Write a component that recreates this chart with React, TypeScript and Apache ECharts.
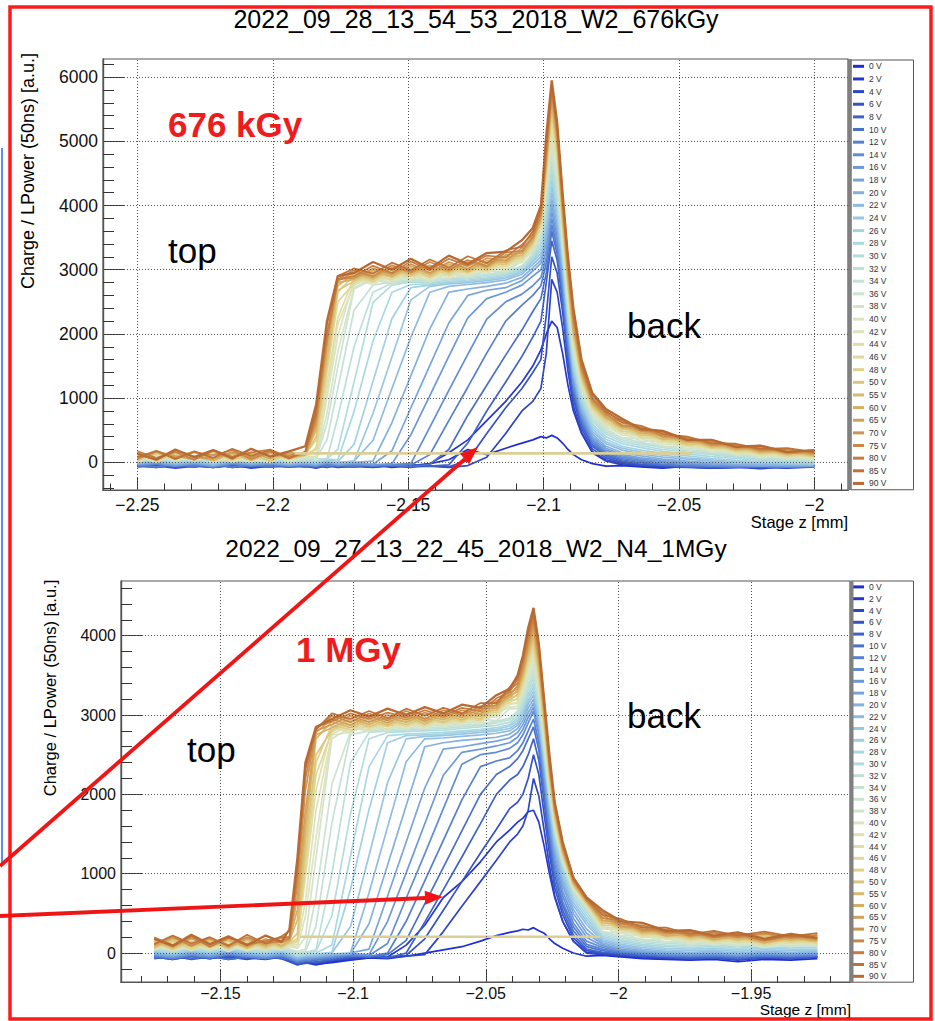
import { useEffect, useRef } from "react";
import * as echarts from "echarts";

// ---- legend entries (bias voltage) and line colours -------------------------
const VOLTAGES = [0, 2, 4, 6, 8, 10, 12, 14, 16, 18, 20, 22, 24, 26, 28, 30, 32, 34, 36, 38, 40, 42, 44, 46, 48, 50, 55, 60, 65, 70, 75, 80, 85, 90];
const SERIES_NAMES = VOLTAGES.map((v) => `${v} V`);
const LINE_COLORS = [
  "#1f2fd6", "#2537cf", "#2d45c9", "#3553c6", "#3f62c8", "#4a70cc", "#557fd1", "#618cd6", "#6c98da", "#78a4dd",
  "#84b0e0", "#8fbbe2", "#99c6e3", "#a2d0e4", "#a9d8e2", "#b3dcdc", "#bcdfd8", "#c5e1d4", "#cde3d0", "#d4e4ca",
  "#dae4c2", "#dee2b6", "#e0dea8", "#e0d898", "#dfd08a", "#dcc67c", "#d9ba6e", "#d6ae64", "#d2a25a", "#ce9550",
  "#c98848", "#c47c40", "#be7238", "#b86a32",
];

// ---- texts -------------------------------------------------------------------
const TOP_TITLE = "2022_09_28_13_54_53_2018_W2_676kGy";
const BOTTOM_TITLE = "2022_09_27_13_22_45_2018_W2_N4_1MGy";
const Y_TITLE = "Charge / LPower (50ns) [a.u.]";
const X_TITLE = "Stage z [mm]";

// ---- axis ticks ----------------------------------------------------------------
const TOP_X_TICKS = [-2.25, -2.2, -2.15, -2.1, -2.05, -2];
const TOP_Y_TICKS = [0, 1000, 2000, 3000, 4000, 5000, 6000];
const BOTTOM_X_TICKS = [-2.15, -2.1, -2.05, -2, -1.95];
const BOTTOM_Y_TICKS = [0, 1000, 2000, 3000, 4000];

// ---- 676 kGy scan: stage positions and charge per bias voltage ---------------
const TOP_Z = [
  -2.25, -2.243, -2.236, -2.229, -2.222, -2.215, -2.208, -2.201, -2.194,
  -2.188, -2.184, -2.18, -2.176,
  -2.17, -2.163, -2.156, -2.149, -2.142, -2.135, -2.128, -2.121, -2.114, -2.108,
  -2.104, -2.101, -2.099, -2.097, -2.095, -2.093, -2.091, -2.089, -2.086, -2.082, -2.077,
  -2.071, -2.064, -2.056, -2.047, -2.038, -2.029, -2.02, -2.01, -2,
];
const TOP_CURVES: number[][] = [
  [-60, -30, -70, -40, -80, -50, -60, -40, -70, -50, -80, -40, -60, -70, -40, -80, -50, -20, 40, 200, 120, 220, 300, 350, 400, 380, 420, 380, 300, 200, 120, 40, -20, -60, -50, -70, -90, -60, -80, -70, -100, -60, -50],
  [-50, -80, -40, -70, -30, -80, -50, -70, -50, -70, -50, -80, -40, -60, -70, -50, -80, -20, 150, 350, 650, 950, 1250, 1500, 1750, 2000, 2200, 2100, 1700, 1200, 800, 450, 150, 20, -40, -60, -80, -70, -90, -80, -70, -80, -60],
  [-70, -50, -90, -60, -80, -40, -90, -60, -70, -60, -90, -50, -80, -60, -80, -50, -70, -60, -80, -50, 80, 450, 800, 950, 1150, 1700, 2850, 2650, 2100, 1420, 880, 470, 170, 40, -20, -50, -70, -80, -90, -80, -80, -90, -70],
  [-60, -40, -80, -50, -70, -40, -80, -50, -60, -50, -80, -40, -70, -50, -70, -40, -60, -50, -70, 30, 450, 850, 1150, 1400, 1600, 2300, 3200, 2950, 2350, 1580, 980, 530, 210, 70, 0, -40, -60, -70, -80, -80, -70, -80, -60],
  [-50, -80, -40, -70, -30, -80, -50, -70, -40, -60, -40, -70, -50, -70, -40, -60, -30, -60, -40, 300, 800, 1250, 1650, 1950, 2200, 2800, 3450, 3150, 2500, 1680, 1050, 580, 250, 100, 20, -30, -50, -70, -80, -70, -80, -70, -60],
  [-60, -30, -70, -40, -80, -30, -60, -40, -70, -50, -70, -30, -60, -40, -60, -40, -70, -30, 200, 730, 1200, 1670, 2060, 2350, 2550, 2950, 3600, 3250, 2600, 1750, 1100, 620, 280, 120, 40, -10, -40, -60, -70, -70, -80, -70, -60],
  [-40, -70, -30, -60, -20, -70, -40, -60, -30, -50, -30, -60, -40, -60, -30, -50, -40, 120, 650, 1170, 1700, 2200, 2450, 2600, 2750, 3100, 3700, 3350, 2680, 1820, 1150, 660, 310, 140, 60, 10, -30, -50, -60, -70, -60, -70, -60],
  [-50, -20, -60, -30, -70, -20, -50, -30, -60, -40, -60, -20, -50, -30, -50, -30, -20, 550, 1120, 1680, 2230, 2500, 2620, 2750, 2880, 3200, 3800, 3450, 2750, 1880, 1200, 700, 340, 160, 80, 30, -10, -30, -50, -60, -60, -70, -60],
  [-40, -10, -50, -20, -60, -10, -40, -20, -50, -30, -50, -10, -40, -20, -40, -20, 430, 1040, 1650, 2250, 2550, 2650, 2760, 2900, 3000, 3300, 3900, 3530, 2820, 1950, 1250, 740, 370, 190, 100, 50, 10, -20, -40, -50, -60, -60, -60],
  [-30, 0, -40, -10, -50, 0, -30, -10, -40, -20, -40, 0, -30, -10, -30, 180, 850, 1510, 2170, 2600, 2680, 2720, 2830, 2980, 3100, 3400, 4000, 3620, 2900, 2020, 1300, 780, 400, 220, 120, 70, 30, 0, -20, -40, -50, -50, -60],
  [-20, 10, -30, 0, -40, 10, -20, 0, -30, -10, -30, 10, -20, 0, 20, 620, 1350, 2080, 2650, 2700, 2740, 2790, 2880, 3030, 3150, 3500, 4100, 3700, 2980, 2080, 1350, 820, 440, 250, 150, 100, 50, 20, -10, -30, -40, -40, -50],
  [-10, 20, -20, 10, -30, 20, -10, 10, -20, 0, -20, 20, -10, 20, 340, 1150, 1950, 2650, 2740, 2770, 2800, 2840, 2930, 3080, 3200, 3600, 4200, 3800, 3050, 2150, 1400, 860, 480, 290, 190, 130, 80, 50, 20, -10, -20, -30, -40],
  [0, 30, -10, 20, -20, 30, 0, 20, -10, 10, -10, 30, 0, 20, 760, 1640, 2530, 2740, 2780, 2800, 2830, 2870, 2960, 3120, 3250, 3700, 4300, 3880, 3120, 2200, 1450, 900, 520, 320, 220, 160, 110, 70, 40, 10, -10, -20, -30],
  [10, 40, 0, 30, -10, 40, 10, 30, 0, 20, 0, 40, 10, 280, 1260, 2240, 2720, 2760, 2800, 2820, 2850, 2890, 2980, 3150, 3300, 3800, 4400, 3970, 3200, 2250, 1500, 940, 560, 360, 250, 190, 140, 100, 60, 30, 10, -10, -20],
  [20, 50, 10, 40, 0, 50, 20, 40, 10, 30, 10, 50, 40, 790, 1890, 2650, 2770, 2780, 2820, 2840, 2870, 2910, 3000, 3180, 3350, 3900, 4500, 4050, 3250, 2300, 1550, 980, 600, 400, 290, 230, 170, 130, 90, 60, 30, 10, 0],
  [30, 60, 20, 50, 10, 60, 30, 50, 20, 40, 20, 60, 200, 1250, 2490, 2760, 2810, 2800, 2840, 2860, 2890, 2930, 3020, 3200, 3400, 4000, 4600, 4150, 3300, 2350, 1600, 1020, 640, 440, 320, 260, 200, 160, 120, 80, 50, 30, 20],
  [40, 70, 30, 60, 20, 70, 40, 60, 30, 30, 60, 50, 700, 1800, 2650, 2790, 2830, 2820, 2860, 2880, 2910, 2950, 3040, 3230, 3450, 4100, 4700, 4220, 3350, 2400, 1650, 1060, 670, 470, 350, 290, 230, 180, 140, 100, 70, 50, 30],
  [60, 30, 70, 40, 80, 30, 50, 70, 40, 50, 60, 350, 1150, 2370, 2760, 2810, 2850, 2830, 2870, 2900, 2930, 2970, 3060, 3250, 3500, 4200, 4800, 4300, 3400, 2450, 1700, 1100, 700, 500, 380, 310, 250, 200, 160, 120, 80, 60, 40],
  [0, 110, 20, 100, 10, 120, 30, 130, 0, 70, 60, 600, 1480, 2700, 2850, 2770, 2920, 2800, 2940, 2870, 2990, 2960, 3140, 3280, 3550, 4250, 4900, 4380, 3450, 2500, 1750, 1140, 740, 530, 380, 370, 250, 250, 150, 170, 70, 100, 30],
  [100, 0, 120, 20, 130, 0, 100, 20, 110, 80, 70, 760, 1720, 2720, 2870, 2800, 2940, 2820, 2960, 2890, 3020, 2990, 3170, 3300, 3600, 4300, 5000, 4450, 3500, 2550, 1800, 1170, 760, 550, 460, 330, 330, 210, 220, 120, 140, 50, 90],
  [10, 120, 30, 110, 20, 130, 40, 0, 110, 90, 80, 1000, 1960, 2850, 2770, 2930, 2840, 2960, 2870, 3010, 2940, 3090, 3110, 3320, 3620, 4350, 5100, 4550, 3550, 2600, 1830, 1200, 780, 570, 420, 410, 280, 280, 170, 190, 90, 120, 40],
  [110, 10, 130, 30, 140, 40, 10, 120, 30, 100, 90, 1100, 2150, 2760, 2900, 2830, 2970, 2850, 2990, 2910, 3050, 3020, 3200, 3340, 3650, 4400, 5200, 4620, 3600, 2640, 1870, 1230, 800, 590, 500, 370, 360, 240, 250, 140, 160, 70, 110],
  [20, 130, 40, 150, 50, 20, 130, 60, 40, 100, 230, 1250, 2250, 2880, 2800, 2960, 2860, 2990, 2900, 3030, 2970, 3130, 3150, 3360, 3680, 4450, 5300, 4700, 3650, 2680, 1900, 1260, 820, 610, 450, 440, 310, 310, 200, 210, 110, 140, 60],
  [120, 20, 140, 60, 150, 30, 120, 20, 130, 110, 200, 1400, 2500, 2790, 2930, 2850, 3000, 2870, 3020, 2940, 3080, 3050, 3230, 3380, 3700, 4500, 5400, 4800, 3700, 2720, 1950, 1290, 840, 630, 530, 390, 380, 260, 270, 160, 180, 90, 130],
  [30, 140, 50, 160, 20, 130, 70, 150, 50, 120, 350, 1500, 2650, 2910, 2820, 2990, 2890, 3020, 2930, 3060, 2990, 3170, 3180, 3400, 3720, 4550, 5450, 4850, 3750, 2760, 1980, 1310, 860, 650, 480, 470, 340, 330, 220, 230, 130, 160, 80],
  [130, 30, 150, 70, 160, 40, 130, 20, 140, 130, 400, 1550, 2680, 2820, 2960, 2880, 3030, 2890, 3060, 2960, 3110, 3080, 3260, 3420, 3750, 4600, 5500, 4900, 3800, 2800, 2000, 1330, 880, 670, 560, 420, 410, 280, 290, 180, 200, 110, 150],
  [40, 150, 90, 170, 50, 140, 30, 140, 60, 110, 500, 1650, 2750, 2940, 2850, 3020, 2920, 3050, 2960, 3090, 3020, 3200, 3220, 3440, 3780, 4650, 5600, 4950, 3850, 2850, 2050, 1360, 900, 690, 520, 500, 360, 360, 240, 250, 150, 180, 100],
  [140, 40, 170, 90, 30, 150, 70, 160, 80, 120, 550, 1800, 2800, 2850, 2990, 2900, 3060, 2920, 3090, 2980, 3140, 3110, 3300, 3460, 3800, 4700, 5650, 5000, 3900, 2900, 2100, 1400, 920, 700, 590, 450, 430, 310, 310, 200, 220, 130, 160],
  [50, 170, 100, 40, 180, 80, 160, 60, 150, 130, 600, 1850, 2820, 2960, 2880, 3040, 2950, 3070, 2980, 3120, 3040, 3230, 3260, 3480, 3820, 4750, 5700, 5050, 3950, 2950, 2150, 1420, 940, 720, 550, 530, 390, 380, 260, 270, 170, 190, 120],
  [150, 50, 190, 90, 60, 160, 80, 170, 70, 140, 650, 1900, 2850, 2870, 3020, 2930, 3090, 2950, 3120, 3010, 3180, 3140, 3340, 3500, 3850, 4800, 5750, 5100, 4000, 3000, 2200, 1450, 960, 740, 620, 480, 460, 330, 330, 220, 240, 140, 170],
  [60, 170, 70, 160, 110, 190, 50, 160, 110, 150, 700, 1950, 2850, 2990, 2900, 3070, 2960, 3120, 3000, 3150, 3060, 3270, 3290, 3520, 3880, 4850, 5780, 5150, 4050, 3050, 2250, 1480, 980, 760, 570, 550, 410, 390, 280, 280, 190, 210, 140],
  [170, 70, 160, 40, 190, 90, 150, 200, 80, 160, 750, 2000, 2850, 2900, 3060, 2950, 3130, 2990, 3170, 3060, 3220, 3190, 3390, 3550, 3900, 4900, 5820, 5200, 4100, 3100, 2300, 1500, 1000, 780, 650, 500, 480, 350, 350, 240, 260, 160, 190],
  [80, 180, 50, 170, 70, 210, 100, 190, 60, 170, 800, 2150, 2900, 3020, 2940, 3110, 2990, 3160, 3030, 3210, 3100, 3300, 3360, 3600, 3950, 5000, 5880, 5250, 4150, 3150, 2350, 1550, 1050, 800, 620, 570, 440, 400, 300, 290, 210, 220, 160],
  [130, 40, 200, 80, 190, 60, 210, 90, 170, 250, 900, 2200, 2900, 2950, 3120, 3000, 3170, 3020, 3220, 3090, 3260, 3280, 3460, 3650, 4000, 5100, 5950, 5300, 4200, 3200, 2400, 1600, 1080, 830, 680, 520, 490, 350, 350, 240, 260, 160, 190],
];
// flat segment drawn across the lower part of the 676 kGy panel
const TOP_FLAT_Z = [-2.192, -2.045];
const TOP_FLAT_VALUE = [140, 140];

// ---- 1 MGy scan ------------------------------------------------------------------
const BOTTOM_Z = [
  -2.175, -2.168, -2.161, -2.154, -2.147, -2.14, -2.133, -2.127,
  -2.124, -2.121, -2.118, -2.114,
  -2.108, -2.101, -2.094, -2.087, -2.08, -2.073, -2.066, -2.059, -2.052, -2.046, -2.041,
  -2.038, -2.036, -2.034, -2.032, -2.03, -2.028, -2.026, -2.024, -2.021, -2.017, -2.012,
  -2.006, -1.999, -1.991, -1.982, -1.973, -1.964, -1.955, -1.945, -1.935, -1.925,
];
const BOTTOM_CURVES: number[][] = [
  [-50, -80, -40, -70, -30, -60, -80, -50, -90, -130, -110, -140, -120, -90, -60, -70, -40, 0, 40, 80, 150, 220, 260, 280, 300, 290, 320, 280, 250, 180, 120, 60, 0, -40, -30, -50, -70, -80, -90, -80, -110, -80, -90, -70],
  [-60, -30, -70, -40, -80, -50, -30, -60, -100, -140, -120, -150, -110, -80, -60, -50, 100, 350, 700, 900, 1150, 1400, 1550, 1650, 1700, 1780, 1800, 1650, 1350, 1000, 700, 400, 150, 0, -20, -40, -60, -70, -80, -60, -90, -60, -70, -50],
  [-40, -70, -30, -60, -50, -80, -40, -70, -110, -150, -120, -130, -100, -70, -50, -60, -40, -20, 270, 590, 900, 1170, 1400, 1500, 1600, 1800, 2200, 1980, 1550, 1100, 720, 400, 150, 10, -10, -30, -50, -60, -70, -60, -80, -60, -70, -50],
  [-70, -40, -80, -50, -60, -30, -70, -50, -100, -140, -130, -110, -90, -60, -40, -50, -30, 180, 540, 900, 1260, 1560, 1820, 1900, 2000, 2200, 2500, 2250, 1750, 1250, 820, 480, 190, 30, 0, -20, -40, -50, -70, -60, -80, -50, -60, -50],
  [-50, -80, -40, -70, -30, -60, -50, -70, -90, -130, -100, -120, -80, -50, -30, -60, 0, 390, 800, 1210, 1630, 2000, 2180, 2250, 2350, 2500, 2700, 2430, 1900, 1350, 900, 540, 230, 50, 10, -10, -30, -50, -60, -50, -70, -50, -60, -40],
  [-60, -30, -70, -40, -80, -50, -30, -60, -80, -120, -110, -90, -70, -40, -50, -20, 160, 620, 1080, 1540, 2000, 2250, 2350, 2450, 2550, 2700, 2850, 2560, 2000, 1450, 980, 600, 280, 80, 30, 0, -20, -40, -50, -40, -60, -40, -50, -40],
  [-40, -70, -30, -60, -20, -50, -70, -40, -70, -110, -90, -80, -60, -30, -40, 0, 400, 910, 1420, 1930, 2350, 2420, 2460, 2550, 2650, 2800, 2950, 2650, 2100, 1530, 1050, 650, 330, 110, 50, 10, -10, -30, -40, -30, -50, -30, -40, -30],
  [-30, -60, -20, -50, -10, -40, -60, -30, -60, -100, -80, -70, -50, -20, -30, 120, 690, 1250, 1820, 2380, 2500, 2530, 2580, 2650, 2750, 2900, 3050, 2750, 2180, 1600, 1120, 720, 380, 150, 70, 20, 0, -20, -30, -20, -40, -20, -30, -20],
  [-20, -50, -10, -40, 0, -30, -50, -20, -50, -90, -70, -60, -40, -10, -20, 400, 1010, 1630, 2240, 2530, 2570, 2610, 2650, 2720, 2820, 2970, 3100, 2790, 2220, 1650, 1180, 780, 440, 200, 90, 30, 10, -10, -20, -10, -30, -10, -20, -10],
  [-10, -40, 0, -30, 10, -20, -40, -10, -40, -80, -60, -50, -30, 0, 50, 720, 1400, 2080, 2570, 2600, 2640, 2670, 2710, 2780, 2880, 3030, 3150, 2830, 2280, 1720, 1250, 850, 500, 250, 110, 50, 20, 0, -10, 0, -20, 0, -10, 0],
  [0, -30, 10, -20, 20, -10, -30, 0, -30, -70, -50, -40, -20, -10, 370, 1110, 1860, 2600, 2650, 2680, 2700, 2720, 2760, 2830, 2930, 3090, 3200, 2880, 2340, 1780, 1300, 900, 550, 300, 130, 70, 30, 10, 0, 10, -10, 10, 0, 10],
  [10, -20, 20, -10, 30, 0, -20, 10, -20, -60, -40, -30, -10, 0, 760, 1590, 2410, 2700, 2710, 2730, 2750, 2770, 2800, 2870, 2980, 3140, 3250, 2930, 2400, 1850, 1350, 950, 600, 360, 150, 90, 50, 20, 10, 20, 0, 20, 10, 20],
  [20, -10, 30, 0, 40, 10, -10, 20, -10, -50, -30, -20, 0, 330, 1230, 2150, 2700, 2730, 2740, 2760, 2780, 2800, 2830, 2900, 3020, 3180, 3300, 2970, 2440, 1880, 1400, 1000, 640, 400, 170, 110, 70, 40, 30, 40, 20, 40, 30, 30],
  [30, 0, 40, 10, 50, 20, 0, 30, 0, -40, -20, -10, 10, 800, 1810, 2650, 2740, 2750, 2760, 2780, 2800, 2820, 2860, 2930, 3060, 3230, 3350, 3020, 2480, 1910, 1450, 1050, 680, 440, 190, 130, 90, 60, 50, 60, 40, 60, 50, 50],
  [40, 10, 50, 20, 60, 30, 10, 40, 10, -30, -10, 0, 100, 1220, 2350, 2740, 2760, 2770, 2780, 2800, 2820, 2840, 2880, 2960, 3090, 3270, 3400, 3060, 2520, 1940, 1500, 1090, 720, 480, 210, 150, 110, 80, 70, 80, 60, 80, 70, 70],
  [50, 20, 60, 30, 70, 40, 20, 50, 20, -20, 0, 20, 470, 1750, 2700, 2780, 2790, 2800, 2810, 2830, 2850, 2870, 2910, 2990, 3130, 3320, 3450, 3110, 2550, 1970, 1520, 1100, 760, 520, 230, 170, 130, 100, 90, 100, 80, 100, 90, 90],
  [60, 30, 70, 40, 80, 50, 30, 60, 30, -10, 10, 40, 1000, 2400, 2780, 2800, 2810, 2820, 2830, 2850, 2870, 2900, 2940, 3020, 3160, 3360, 3500, 3150, 2590, 2000, 1540, 1120, 770, 550, 250, 190, 150, 120, 110, 120, 100, 120, 110, 100],
  [70, 40, 80, 50, 90, 60, 40, 70, 40, 0, 20, 340, 1640, 2750, 2800, 2820, 2830, 2840, 2850, 2870, 2890, 2920, 2960, 3050, 3200, 3400, 3550, 3200, 2630, 2020, 1560, 1130, 780, 560, 270, 210, 170, 140, 130, 140, 120, 140, 120, 110],
  [50, 110, 60, 90, 70, 100, 30, 110, 50, 20, 50, 710, 2130, 2790, 2870, 2810, 2890, 2830, 2920, 2860, 2950, 2930, 3080, 3080, 3230, 3450, 3600, 3240, 2660, 2050, 1580, 1150, 790, 570, 260, 260, 160, 190, 100, 150, 90, 140, 80, 120],
  [100, 30, 80, 50, 90, 30, 80, 40, 80, 60, 200, 1200, 2700, 2850, 2790, 2880, 2820, 2900, 2850, 2930, 2890, 3020, 3100, 3110, 3270, 3490, 3650, 3290, 2700, 2080, 1610, 1170, 800, 580, 340, 220, 230, 140, 170, 100, 140, 70, 120, 90],
  [40, 130, 30, 120, 20, 120, 40, 110, 90, 80, 460, 1450, 2750, 2780, 2890, 2810, 2910, 2830, 2940, 2880, 2990, 2970, 3150, 3140, 3300, 3540, 3700, 3330, 2740, 2110, 1630, 1180, 810, 590, 300, 300, 190, 210, 130, 170, 110, 160, 100, 140],
  [120, 30, 130, 40, 130, 30, 120, 50, 100, 110, 650, 1800, 2760, 2870, 2810, 2900, 2840, 2930, 2870, 2950, 2910, 3050, 3130, 3160, 3340, 3580, 3750, 3380, 2780, 2140, 1650, 1200, 830, 600, 370, 250, 260, 170, 190, 120, 160, 90, 140, 110],
  [50, 140, 40, 130, 50, 140, 40, 130, 110, 140, 950, 2050, 2850, 2780, 2900, 2820, 2940, 2850, 2960, 2900, 3010, 3000, 3190, 3190, 3370, 3620, 3800, 3420, 2810, 2170, 1670, 1220, 840, 610, 320, 320, 210, 230, 150, 190, 130, 180, 120, 160],
  [130, 40, 140, 60, 150, 50, 130, 60, 120, 150, 1050, 2250, 2790, 2900, 2830, 2920, 2860, 2950, 2890, 2970, 2930, 3080, 3160, 3210, 3400, 3660, 3850, 3470, 2850, 2190, 1690, 1230, 850, 620, 400, 280, 270, 190, 210, 140, 180, 100, 160, 120],
  [60, 150, 50, 140, 70, 150, 60, 140, 130, 180, 1200, 2400, 2880, 2810, 2930, 2850, 2960, 2870, 2980, 2920, 3030, 3030, 3220, 3240, 3430, 3710, 3900, 3510, 2890, 2220, 1720, 1250, 860, 620, 350, 350, 230, 250, 170, 210, 150, 200, 140, 180],
  [140, 50, 150, 70, 160, 60, 150, 70, 140, 250, 1350, 2500, 2810, 2930, 2850, 2940, 2880, 2970, 2910, 3000, 2950, 3110, 3190, 3260, 3460, 3750, 3950, 3560, 2920, 2250, 1740, 1260, 870, 630, 420, 300, 290, 210, 230, 160, 200, 120, 180, 140],
  [70, 170, 80, 160, 60, 170, 80, 160, 150, 420, 1500, 2700, 2920, 2840, 2960, 2870, 2990, 2890, 3010, 2940, 3050, 3060, 3250, 3290, 3500, 3790, 4000, 3600, 2960, 2280, 1760, 1280, 880, 640, 380, 370, 250, 270, 190, 230, 170, 220, 160, 200],
  [160, 70, 180, 90, 170, 70, 180, 90, 160, 550, 1650, 2750, 2840, 2960, 2880, 2970, 2910, 3000, 2940, 3030, 2980, 3140, 3220, 3310, 3530, 3830, 4050, 3650, 3000, 2310, 1780, 1300, 890, 650, 450, 320, 310, 220, 240, 170, 210, 130, 190, 150],
  [90, 190, 100, 180, 80, 180, 100, 190, 170, 700, 1800, 2780, 2950, 2870, 2990, 2900, 3020, 2920, 3030, 2970, 3080, 3090, 3280, 3330, 3560, 3870, 4100, 3690, 3030, 2340, 1800, 1310, 900, 660, 410, 390, 270, 290, 210, 250, 190, 240, 180, 220],
  [180, 80, 190, 100, 200, 90, 170, 130, 180, 850, 2050, 2800, 2880, 2990, 2910, 3000, 2940, 3030, 2970, 3060, 3010, 3180, 3250, 3370, 3600, 3900, 4150, 3740, 3070, 2370, 1830, 1330, 910, 660, 480, 340, 330, 240, 260, 190, 230, 150, 210, 170],
  [110, 210, 90, 190, 100, 200, 120, 150, 190, 950, 2200, 2820, 2990, 2910, 3020, 2930, 3050, 2950, 3060, 3000, 3110, 3120, 3320, 3400, 3640, 3950, 4200, 3780, 3110, 2390, 1850, 1340, 920, 670, 440, 410, 290, 300, 220, 260, 200, 250, 190, 230],
  [200, 100, 210, 80, 190, 110, 150, 200, 200, 1050, 2300, 2850, 2920, 3020, 2950, 3030, 2970, 3060, 2990, 3090, 3050, 3210, 3290, 3450, 3700, 4000, 4250, 3830, 3150, 2420, 1870, 1360, 940, 680, 510, 370, 350, 260, 270, 200, 240, 160, 220, 180],
  [110, 220, 120, 200, 90, 230, 120, 210, 280, 1100, 2350, 2820, 3020, 2950, 3050, 2960, 3080, 2990, 3090, 3020, 3150, 3150, 3350, 3470, 3720, 4050, 4300, 3870, 3180, 2450, 1890, 1380, 950, 690, 480, 430, 320, 320, 240, 280, 220, 270, 210, 250],
  [180, 90, 230, 110, 210, 100, 220, 140, 300, 1200, 2400, 2850, 2950, 3060, 2980, 3080, 3000, 3100, 3020, 3130, 3090, 3250, 3330, 3500, 3750, 4100, 4350, 3900, 3200, 2500, 1900, 1400, 950, 700, 540, 400, 380, 280, 290, 220, 260, 180, 240, 190],
];
const BOTTOM_FLAT_Z = [-2.12, -2.007];
const BOTTOM_FLAT_VALUE = [205, 205];

// ---- layout --------------------------------------------------------------------
const FONT = "'Liberation Sans', Arial, Helvetica, sans-serif";

type Panel = {
  left: number; top: number; width: number; height: number;
  xMin: number; xMax: number; yMin: number; yMax: number;
  xTicks: number[]; yTicks: number[];
  xMinorFrom: number; xMinorTo: number; yMinorFrom: number; yMinorTo: number;
  xMajorLen: number; xMinorLen: number; yMajorLen: number; yMinorLen: number;
  labelSize: number; labelMargin: number;
  z: number[]; curves: number[][]; flatZ: number[]; flatV: number[];
  legendTop: number; legendRow: number;
};

const PANELS: Panel[] = [
  {
    left: 103, top: 59, width: 745, height: 431,
    xMin: -2.2627, xMax: -1.9876, yMin: -431, yMax: 6282,
    xTicks: TOP_X_TICKS, yTicks: TOP_Y_TICKS,
    xMinorFrom: -2.26, xMinorTo: -1.99, yMinorFrom: -400, yMinorTo: 6200,
    xMajorLen: 13, xMinorLen: 6.5, yMajorLen: 22, yMinorLen: 11,
    labelSize: 17.5, labelMargin: 6,
    z: TOP_Z, curves: TOP_CURVES, flatZ: TOP_FLAT_Z, flatV: TOP_FLAT_VALUE,
    legendTop: 60, legendRow: 12.64,
  },
  {
    left: 121, top: 581, width: 729, height: 401,
    xMin: -2.1875, xMax: -1.9127, yMin: -365, yMax: 4689,
    xTicks: BOTTOM_X_TICKS, yTicks: BOTTOM_Y_TICKS,
    xMinorFrom: -2.18, xMinorTo: -1.92, yMinorFrom: -200, yMinorTo: 4600,
    xMajorLen: 12, xMinorLen: 6, yMajorLen: 22, yMinorLen: 11,
    labelSize: 16, labelMargin: 3,
    z: BOTTOM_Z, curves: BOTTOM_CURVES, flatZ: BOTTOM_FLAT_Z, flatV: BOTTOM_FLAT_VALUE,
    legendTop: 581, legendRow: 11.8,
  },
];

// minor tick positions between the labelled ticks
function minorTicks(from: number, to: number, step: number, skip: number[]): number[] {
  const out: number[] = [];
  const n = Math.round((to - from) / step);
  for (let k = 0; k <= n; k++) {
    const v = Math.round((from + k * step) * 10000) / 10000;
    if (!skip.some((s) => Math.abs(s - v) < 1e-6)) out.push(v);
  }
  return out;
}

const minusSign = (v: number) => String(v).replace("-", "\u2212");
const plain = (v: number) => String(v);

function buildOption() {
  const grid: any[] = [];
  const xAxis: any[] = [];
  const yAxis: any[] = [];
  const series: any[] = [];
  const legend: any[] = [];

  PANELS.forEach((p, gi) => {
    grid.push({
      left: p.left, top: p.top, width: p.width, height: p.height,
      show: true, borderColor: "#555", borderWidth: 1.2, backgroundColor: "transparent",
      outerBoundsMode: "none",
    });
    const xMinor = minorTicks(p.xMinorFrom, p.xMinorTo, 0.01, p.xTicks);
    const yMinor = minorTicks(p.yMinorFrom, p.yMinorTo, 200, p.yTicks);
    const line = { show: true, onZero: false, lineStyle: { color: "#555", width: 1.2 } };
    const tickStyle = { color: "#333", width: 1 };
    const base = { type: "value", gridIndex: gi, splitLine: { show: false }, axisLine: line };

    xAxis.push({
      ...base, min: p.xMin, max: p.xMax, position: "bottom",
      axisTick: { show: true, inside: true, length: p.xMajorLen, customValues: p.xTicks, lineStyle: tickStyle },
      axisLabel: {
        show: true, customValues: p.xTicks, margin: p.labelMargin, formatter: minusSign,
        color: "#111", fontSize: p.labelSize, fontFamily: FONT,
      },
    });
    xAxis.push({
      ...base, min: p.xMin, max: p.xMax, position: "bottom",
      axisTick: { show: true, inside: true, length: p.xMinorLen, customValues: xMinor, lineStyle: tickStyle },
      axisLabel: { show: false },
    });
    yAxis.push({
      ...base, min: p.yMin, max: p.yMax, position: "left",
      axisTick: { show: true, inside: true, length: p.yMajorLen, customValues: p.yTicks, lineStyle: tickStyle },
      axisLabel: {
        show: true, customValues: p.yTicks, margin: 5, formatter: plain,
        color: "#111", fontSize: p.labelSize, fontFamily: FONT,
      },
    });
    yAxis.push({
      ...base, min: p.yMin, max: p.yMax, position: "left",
      axisTick: { show: true, inside: true, length: p.yMinorLen, customValues: yMinor, lineStyle: tickStyle },
      axisLabel: { show: false },
    });

    const xi = gi * 2;
    const yi = gi * 2;

    // dotted grid at the labelled ticks
    series.push({
      type: "line", name: `grid-${gi}`, xAxisIndex: xi, yAxisIndex: yi,
      data: [[p.xMin, p.yMin]], symbol: "none", lineStyle: { opacity: 0 }, z: 1, silent: true,
      markLine: {
        silent: true, symbol: ["none", "none"], label: { show: false },
        lineStyle: { type: [1, 2], color: "#555", width: 1 },
        emphasis: { disabled: true },
        data: [...p.xTicks.map((v) => ({ xAxis: v })), ...p.yTicks.map((v) => ({ yAxis: v }))],
      },
    });

    p.curves.forEach((ys, si) => {
      series.push({
        type: "line", name: SERIES_NAMES[si], xAxisIndex: xi, yAxisIndex: yi,
        data: p.z.map((zv, k) => [zv, ys[k]]),
        symbol: "none", showSymbol: false, color: LINE_COLORS[si],
        lineStyle: { color: LINE_COLORS[si], width: si === p.curves.length - 1 ? 2.3 : 1.7 },
        emphasis: { disabled: true }, z: 2,
      });
    });

    series.push({
      type: "line", name: `flat-${gi}`, xAxisIndex: xi, yAxisIndex: yi,
      data: p.flatZ.map((zv, k) => [zv, p.flatV[k]]),
      symbol: "none", lineStyle: { color: "#dccf96", width: 2.6 }, z: 3, emphasis: { disabled: true },
    });

    legend.push({
      data: SERIES_NAMES, orient: "vertical", left: 851, top: p.legendTop,
      icon: "rect", itemWidth: 11, itemHeight: 3, itemGap: 0,
      padding: [0, 27, 0, 2], selectedMode: false,
      backgroundColor: "#fff", borderColor: "#555", borderWidth: 1,
      textStyle: { fontSize: 8.5, fontFamily: FONT, color: "#333", lineHeight: p.legendRow },
    });
  });

  const text = (x: number, y: number, s: string, size: number, extra: any = {}) => ({
    type: "text", x, y, z: 50, silent: true,
    style: {
      text: s, fontSize: size, fontFamily: FONT, fill: "#000",
      align: "left", verticalAlign: "middle", ...extra,
    },
  });

  const graphic: any[] = [
    // titles
    text(476, 19, TOP_TITLE, 25, { align: "center" }),
    text(476, 548, BOTTOM_TITLE, 24.5, { align: "center" }),
    // axis titles
    text(848, 522, X_TITLE, 16.5, { align: "right" }),
    text(851, 1009, X_TITLE, 15.5, { align: "right" }),
    { ...text(28, 171, Y_TITLE, 18, { align: "center" }), rotation: Math.PI / 2 },
    { ...text(50, 688, Y_TITLE, 16.5, { align: "center" }), rotation: Math.PI / 2 },
    // annotations
    text(168, 124, "676 kGy", 35, { fill: "#ee1c1c", fontWeight: "bold" }),
    text(168, 250, "top", 35),
    text(627, 325, "back", 35),
    text(296, 649, "1 MGy", 35, { fill: "#ee1c1c", fontWeight: "bold" }),
    text(187, 749, "top", 35),
    text(627, 715, "back", 35),
    // legend shadow bars
    { type: "rect", z: 60, silent: true, shape: { x: 848, y: 59, width: 3.5, height: 431 }, style: { fill: "#808080" } },
    { type: "rect", z: 60, silent: true, shape: { x: 850, y: 581, width: 3.5, height: 401 }, style: { fill: "#808080" } },
    // outer red frame and blue edge
    { type: "rect", z: 90, silent: true, shape: { x: 10, y: 7, width: 921, height: 1012 }, style: { fill: "none", stroke: "#ff1a1a", lineWidth: 3.5 } },
    { type: "line", z: 90, silent: true, shape: { x1: 2, y1: 148, x2: 2, y2: 866 }, style: { stroke: "#5a8ef0", lineWidth: 2 } },
    // arrows
    { type: "line", z: 95, silent: true, shape: { x1: 0, y1: 866, x2: 465, y2: 459 }, style: { stroke: "#f01414", lineWidth: 3.8 } },
    { type: "polygon", z: 95, silent: true, shape: { points: [[478, 447], [469.1, 464.2], [459.9, 453.6]] }, style: { fill: "#f01414" } },
    { type: "line", z: 95, silent: true, shape: { x1: 0, y1: 916, x2: 426, y2: 898 }, style: { stroke: "#f01414", lineWidth: 3.8 } },
    { type: "polygon", z: 95, silent: true, shape: { points: [[443, 897], [425.3, 904.8], [424.7, 890.8]] }, style: { fill: "#f01414" } },
  ];

  return {
    animation: false,
    backgroundColor: "#fff",
    grid, xAxis, yAxis, series, legend, graphic,
    tooltip: { show: false },
  };
}

export default function App() {
  const ref = useRef<HTMLDivElement>(null);
  useEffect(() => {
    if (!ref.current) return;
    const chart = echarts.init(ref.current, undefined, { renderer: "svg" });
    chart.setOption(buildOption() as any);
    return () => chart.dispose();
  }, []);
  return <div ref={ref} style={{ position: "absolute", left: 0, top: 0, width: 935, height: 1021 }} />;
}
